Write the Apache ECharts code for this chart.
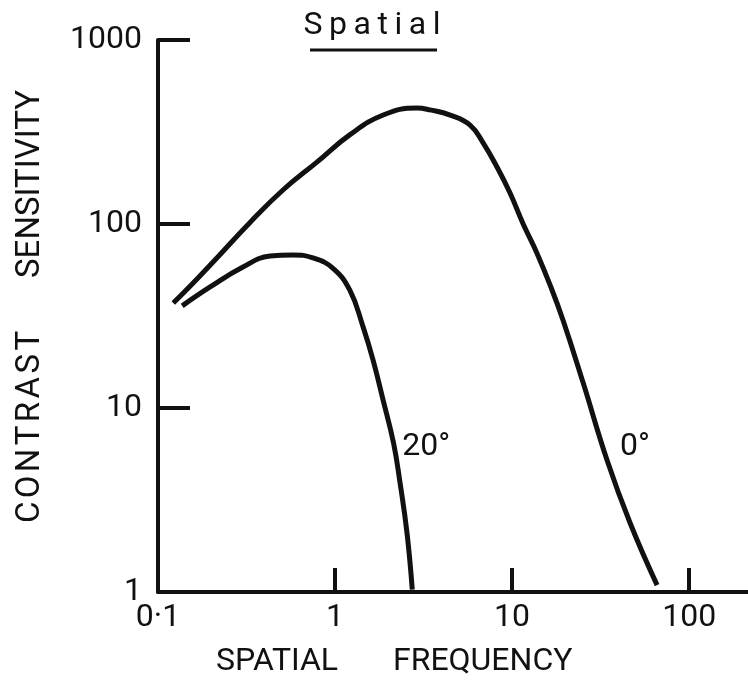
<!DOCTYPE html>
<html><head><meta charset="utf-8">
<script src="https://cdn.jsdelivr.net/npm/echarts@6/dist/echarts.min.js"></script>
<style>html,body{margin:0;padding:0;background:#fff}#c{width:748px;height:684px}</style>
</head><body><div id="c"></div>
<script>
// 0 degree eccentricity curve
const freq0 = [0.122, 0.158, 0.215, 0.331, 0.508, 0.79, 1.21, 1.87, 2.90, 3.44, 4.47, 5.79, 6.86, 8.22, 9.75, 11.5, 13.8, 16.4, 19.4, 25.2, 34.4, 46.4, 65.9];
const sens0 = [37.2, 47.8, 65.4, 102, 153, 217, 305, 391, 427, 417, 391, 345, 276, 204, 147, 101, 69.6, 46.5, 30.0, 13.7, 5.2, 2.37, 1.09];
// 20 degree eccentricity curve
const freq20 = [0.137, 0.197, 0.302, 0.429, 0.58, 0.75, 0.97, 1.21, 1.44, 1.64, 1.87, 2.14, 2.33, 2.55, 2.73];
const sens20 = [35.9, 45.5, 58.4, 67, 67.9, 65.4, 57.6, 43.8, 27.6, 18.2, 11.0, 6.45, 3.91, 2.09, 1.03];

const xTickValues = [0.1, 1, 10, 100];
const xTickLabels = ['0·1', '1', '10', '100'];
const yTickValues = [1, 10, 100, 1000];
const yTickLabels = ['1', '10', '100', '1000'];

const curveNames = ['0°', '20°'];
const curveLabelFreq = [49.5, 3.27];
const curveLabelSens = [6.14, 6.14];

const titleText = 'Spatial';
const xNameWords = ['SPATIAL', 'FREQUENCY'];
const yNameWords = ['CONTRAST', 'SENSITIVITY'];

const INK = '#111';
const FONT = 'Roboto';

function pairs(xs, ys) { return xs.map((x, i) => [x, ys[i]]); }
function lookup(vals, labels, v) {
  const l = Math.log10(v);
  if (Math.abs(l - Math.round(l)) > 0.01) return '';
  const i = vals.findIndex(t => Math.round(Math.log10(t)) === Math.round(l));
  return i >= 0 ? labels[i] : '';
}

const chart = echarts.init(document.getElementById('c'), null, {renderer: 'canvas'});

function mkSeries(name, xs, ys, idx) {
  return {
    name: name,
    type: 'line',
    data: pairs(xs, ys),
    showSymbol: false,
    smooth: 0.45,
    lineStyle: {color: INK, width: 5},
    itemStyle: {color: INK},
    silent: true,
    markPoint: {
      symbol: 'circle',
      symbolSize: 1,
      itemStyle: {color: 'rgba(0,0,0,0)'},
      label: {
        show: true, position: 'inside', formatter: name,
        fontFamily: FONT, fontSize: 32, color: INK
      },
      data: [{coord: [curveLabelFreq[idx], curveLabelSens[idx]]}]
    }
  };
}

const option = {
  animation: false,
  backgroundColor: '#fff',
  grid: {left: 158, right: 0, top: 40, bottom: 92, containLabel: false, outerBoundsMode: 'none'},
  xAxis: {
    type: 'log', logBase: 10, min: 0.1, max: 215,
    axisLine: {show: true, lineStyle: {color: INK, width: 4}},
    axisTick: {show: true, inside: true, length: 24, customValues: xTickValues.slice(1), lineStyle: {color: INK, width: 4}},
    minorTick: {show: false},
    splitLine: {show: false},
    axisLabel: {
      show: true, margin: 10, fontFamily: FONT, fontSize: 32, color: INK,
      customValues: xTickValues,
      formatter: v => lookup(xTickValues, xTickLabels, v)
    }
  },
  yAxis: {
    type: 'log', logBase: 10, min: 1, max: 1000,
    axisLine: {show: true, lineStyle: {color: INK, width: 4}},
    axisTick: {show: true, inside: true, length: 32, customValues: yTickValues.slice(1), lineStyle: {color: INK, width: 4}},
    minorTick: {show: false},
    splitLine: {show: false},
    axisLabel: {
      show: true, margin: 16, fontFamily: FONT, fontSize: 32, color: INK,
      customValues: yTickValues,
      formatter: v => lookup(yTickValues, yTickLabels, v)
    }
  },
  series: [
    mkSeries(curveNames[0], freq0, sens0, 0),
    mkSeries(curveNames[1], freq20, sens20, 1)
  ],
  graphic: [
    {type: 'text', x: 372, y: 26, style: {text: titleText.split('').join('\u2009'), font: '32px Roboto', fill: INK, align: 'center', verticalAlign: 'middle'}},
    {type: 'line', shape: {x1: 310, y1: 50, x2: 437, y2: 50}, style: {stroke: INK, lineWidth: 3}},
    {type: 'text', x: 216, y: 662, style: {text: xNameWords[0], font: '32px Roboto', fill: INK, align: 'left', verticalAlign: 'middle'}},
    {type: 'text', x: 393, y: 662, style: {text: xNameWords[1], font: '32px Roboto', fill: INK, align: 'left', verticalAlign: 'middle'}},
    {type: 'text', x: 31, y: 427, rotation: Math.PI / 2, style: {text: yNameWords[0].split('').join('\u200a'), font: '33px Roboto', fill: INK, align: 'center', verticalAlign: 'middle'}},
    {type: 'text', x: 31, y: 184, rotation: Math.PI / 2, style: {text: yNameWords[1], font: '33px Roboto', fill: INK, align: 'center', verticalAlign: 'middle'}}
  ]
};
chart.setOption(option);
</script>
</body></html>
